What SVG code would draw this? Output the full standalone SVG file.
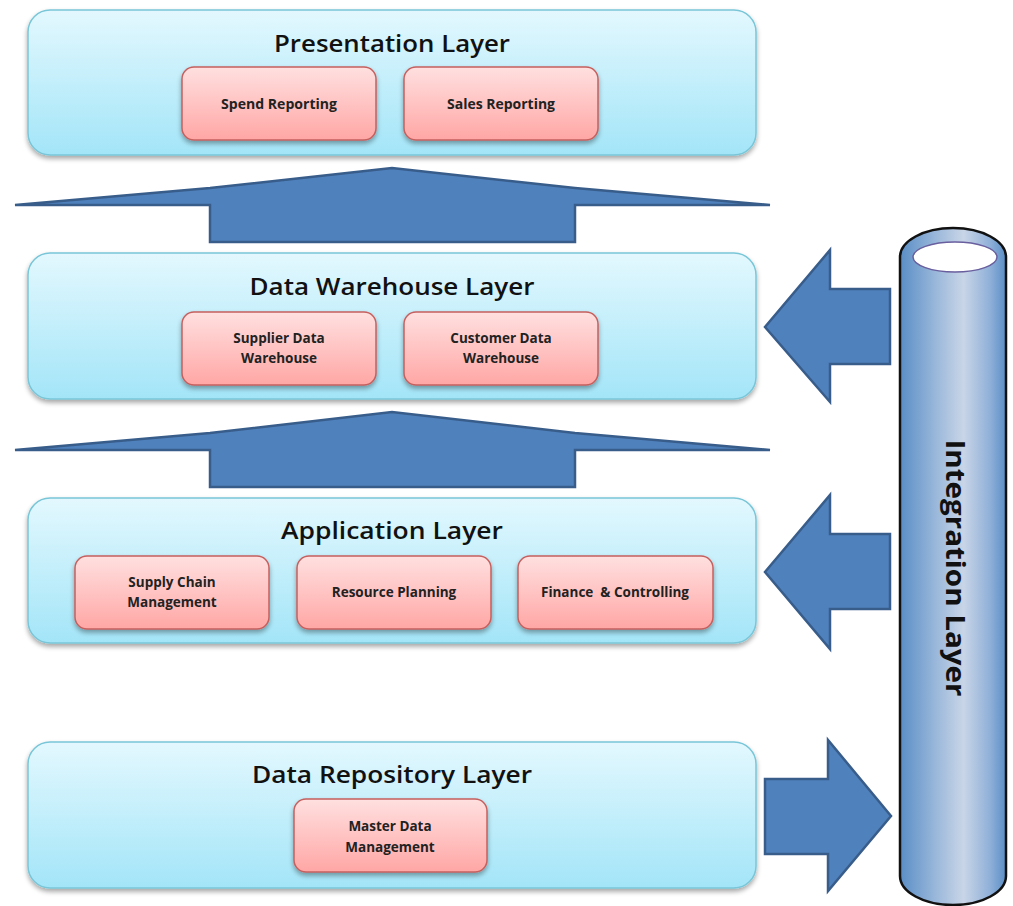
<svg xmlns="http://www.w3.org/2000/svg" width="1013" height="906" viewBox="0 0 1013 906">
  <defs>
    <linearGradient id="layerFill" x1="0" y1="0" x2="0" y2="1">
      <stop offset="0" stop-color="#e3f8fe"/>
      <stop offset="1" stop-color="#a3e5f8"/>
    </linearGradient>
    <linearGradient id="modFill" x1="0" y1="0" x2="0" y2="1">
      <stop offset="0" stop-color="#ffe0e0"/>
      <stop offset="1" stop-color="#ffa7a5"/>
    </linearGradient>
    <linearGradient id="pipeFill" x1="0" y1="0" x2="1" y2="0">
      <stop offset="0" stop-color="#5a8ec6"/>
      <stop offset="0.35" stop-color="#9cb9db"/>
      <stop offset="0.6" stop-color="#c9d5e7"/>
      <stop offset="0.85" stop-color="#8fb0d8"/>
      <stop offset="1" stop-color="#5a8ec6"/>
    </linearGradient>
    <filter id="shadow" x="-10%" y="-10%" width="120%" height="130%">
      <feGaussianBlur in="SourceAlpha" stdDeviation="2.5"/>
      <feOffset dx="0" dy="3" result="b"/>
      <feComponentTransfer><feFuncA type="linear" slope="0.35"/></feComponentTransfer>
      <feMerge><feMergeNode/><feMergeNode in="SourceGraphic"/></feMerge>
    </filter>
  </defs>
  <style>
    .layer { fill: url(#layerFill); stroke: #79c6d8; stroke-width: 1.5; filter: url(#shadow); }
    .mod { fill: url(#modFill); stroke: #c5605e; stroke-width: 1.5; filter: url(#shadow); }
    .title { font-family: "Open Sans", "Liberation Sans", sans-serif; font-size: 24px; font-weight: 600; fill: #111; text-anchor: middle; }
    .label { font-family: "Open Sans", "Liberation Sans", sans-serif; font-size: 13.5px; font-weight: 700; fill: #222; text-anchor: middle; }
    .arrow { fill: #4f81bd; stroke: #385d8a; stroke-width: 2.5; stroke-linejoin: miter; }
  </style>

  <!-- Presentation layer -->
  <g id="presentation-layer">
    <rect class="layer" x="28" y="10" width="728" height="145" rx="22"/>
    <text class="title" x="392" y="52" textLength="236" lengthAdjust="spacingAndGlyphs">Presentation Layer</text>
    <g id="spend-reporting">
      <rect class="mod" x="182" y="67" width="194" height="73" rx="12"/>
      <text class="label" x="279" y="109" textLength="116" lengthAdjust="spacingAndGlyphs">Spend Reporting</text>
    </g>
    <g id="sales-reporting">
      <rect class="mod" x="404" y="67" width="194" height="73" rx="12"/>
      <text class="label" x="501" y="109" textLength="108" lengthAdjust="spacingAndGlyphs">Sales Reporting</text>
    </g>
  </g>

  <!-- Data warehouse layer -->
  <g id="data-warehouse-layer">
    <rect class="layer" x="28" y="253" width="728" height="146" rx="22"/>
    <text class="title" x="392" y="295" textLength="285" lengthAdjust="spacingAndGlyphs">Data Warehouse Layer</text>
    <g id="supplier-dw">
      <rect class="mod" x="182" y="312" width="194" height="73" rx="12"/>
      <text class="label" x="279" y="343">Supplier Data</text>
      <text class="label" x="279" y="363">Warehouse</text>
    </g>
    <g id="customer-dw">
      <rect class="mod" x="404" y="312" width="194" height="73" rx="12"/>
      <text class="label" x="501" y="343">Customer Data</text>
      <text class="label" x="501" y="363">Warehouse</text>
    </g>
  </g>

  <!-- Application layer -->
  <g id="application-layer">
    <rect class="layer" x="28" y="498" width="728" height="145" rx="22"/>
    <text class="title" x="392" y="539" textLength="222" lengthAdjust="spacingAndGlyphs">Application Layer</text>
    <g id="supply-chain">
      <rect class="mod" x="75" y="556" width="194" height="73" rx="12"/>
      <text class="label" x="172" y="587">Supply Chain</text>
      <text class="label" x="172" y="607">Management</text>
    </g>
    <g id="resource-planning">
      <rect class="mod" x="297" y="556" width="194" height="73" rx="12"/>
      <text class="label" x="394" y="597">Resource Planning</text>
    </g>
    <g id="finance">
      <rect class="mod" x="518" y="556" width="195" height="73" rx="12"/>
      <text class="label" x="615" y="597" xml:space="preserve">Finance  &amp; Controlling</text>
    </g>
  </g>

  <!-- Data repository layer -->
  <g id="data-repository-layer">
    <rect class="layer" x="28" y="742" width="728" height="146" rx="22"/>
    <text class="title" x="392" y="783" textLength="280" lengthAdjust="spacingAndGlyphs">Data Repository Layer</text>
    <g id="master-data">
      <rect class="mod" x="294" y="799" width="193" height="73" rx="12"/>
      <text class="label" x="390" y="831">Master Data</text>
      <text class="label" x="390" y="852">Management</text>
    </g>
  </g>

  <!-- Integration pipe -->
  <g id="integration-layer">
    <path d="M900,257 A53,29 0 0 1 1006,257 V876 A53,29 0 0 1 900,876 Z" fill="url(#pipeFill)" stroke="#111" stroke-width="2.5"/>
    <ellipse cx="955" cy="257" rx="42" ry="15" fill="#fff" stroke="#6a5f9e" stroke-width="1.5"/>
    <text transform="translate(946,568) rotate(90)" font-family="'Open Sans', 'Liberation Sans', sans-serif" font-size="27" font-weight="700" fill="#111" text-anchor="middle" textLength="257" lengthAdjust="spacingAndGlyphs">Integration Layer</text>
  </g>

  <!-- Flow arrows -->
  <g id="connectors">
    <path class="arrow" d="M15,205 L210,188 L392,168 L575,188 L770,205 L575,205 L575,242 L210,242 L210,205 Z"/>
    <path class="arrow" d="M15,450 L210,433 L392,412 L575,433 L770,450 L575,450 L575,487 L210,487 L210,450 Z"/>
    <path class="arrow" d="M890,289 L830,289 L830,250 L765,327 L830,402 L830,364 L890,364 Z"/>
    <path class="arrow" d="M890,534 L830,534 L830,495 L765,572 L830,649 L830,609 L890,609 Z"/>
    <path class="arrow" d="M765,779 L828,779 L828,740 L891,816 L828,891 L828,854 L765,854 Z"/>
  </g>
</svg>
